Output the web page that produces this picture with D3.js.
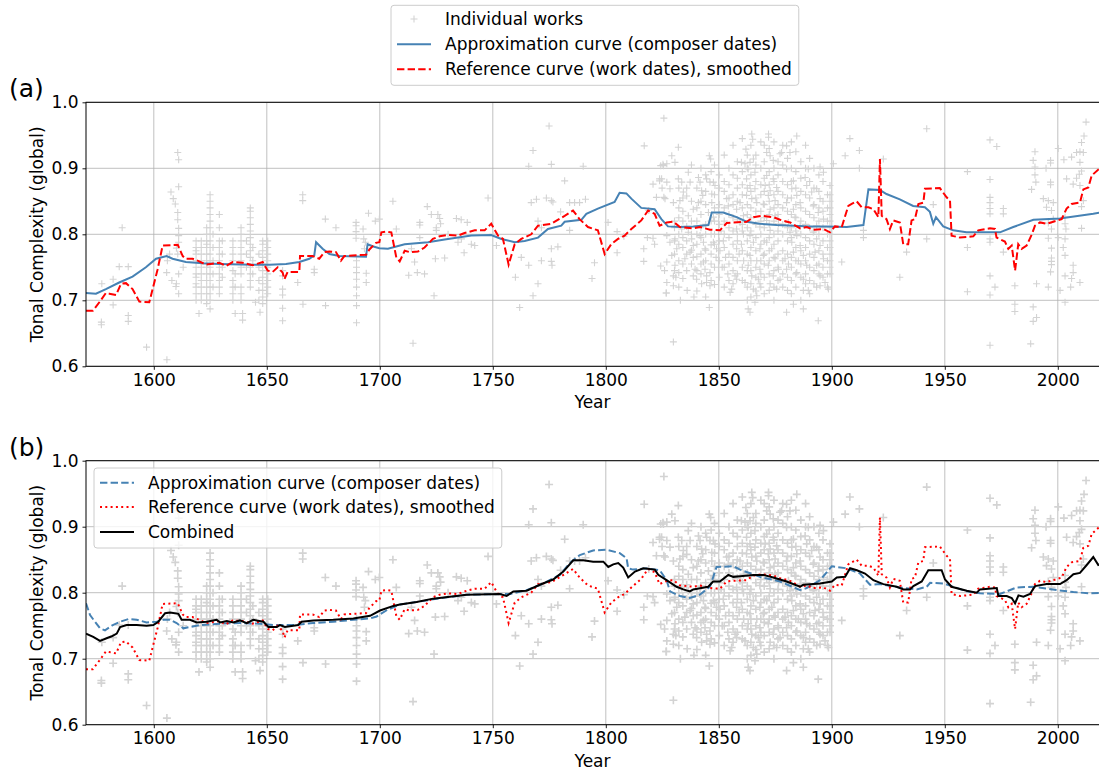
<!DOCTYPE html>
<html>
<head>
<meta charset="utf-8">
<script src="https://cdn.jsdelivr.net/npm/d3@7"></script>
<style>
  body { margin: 0; background: #fff; }
  text { font-family: "DejaVu Sans", sans-serif; }
</style>
</head>
<body>
<svg id="chart" width="1099" height="771"></svg>
<script>
// individual works: [year, value, value, ...] (several works can share a year)
var works = [
  [1576.8, .667, .663], [1577, .725], [1582, .732, .693], [1584.7, .751], [1586, .81],
  [1588.7, .751, .677, .668], [1596.8, .629], [1605.8, .61], [1605.7, .742], [1606, .76],
  [1607, .77], [1607.6, .864], [1608, .73], [1608.6, .854], [1609.5, .846], [1610, .779, .725],
  [1609.8, .721], [1610.6, .924, .833, .822, .77], [1611, .913, .872, .809, .798, .788, .74, .71],
  [1613, .75],
  [1618.7, .79, .78, .775, .77, .76, .75, .74, .735, .725, .72, .71, .70],
  [1620, .68],
  [1621, .79, .78, .77, .76, .75, .74, .73, .72, .71, .70],
  [1623.4, .81, .80, .79, .785, .78, .77, .76, .755, .75, .74, .73, .72, .71, .70, .695],
  [1624.9, .86, .85, .84, .83, .82, .81, .80, .79, .78, .77, .76, .75, .74, .73, .72, .71, .70, .687],
  [1626.2, .80, .78, .76, .74, .72],
  [1629, .83, .81, .79, .78, .77, .76, .75, .74, .73, .72, .71],
  [1630.3, .79, .77, .75, .735],
  [1635, .79, .78, .77, .76, .745, .73, .72, .71, .70],
  [1636, .74, .72, .68],
  [1638.6, .81, .80, .79, .78, .77, .76, .75, .74, .72, .71, .70],
  [1639.3, .68, .67], [1641, .79, .77, .75],
  [1642.7, .84, .835, .825, .815, .805, .795, .785, .775, .765, .75, .74, .73, .72],
  [1643.8, .78, .76, .74], [1645, .697],
  [1646.5, .77, .75, .73, .715, .70], [1647, .682],
  [1648.2, .79, .785, .775, .765, .755, .745, .735, .725, .715, .705, .695],
  [1650.4, .79, .78, .77, .76, .75, .74, .73, .72, .71],
  [1657, .745, .737, .717, .708, .688, .669], [1663.7, .727], [1665.9, .86, .851], [1666, .694],
  [1671, .747, .742], [1675.9, .823], [1676, .692], [1680.6, .81],
  [1689.5, .818, .813, .804, .794], [1689.7, .76, .75, .742, .732, .72, .707, .692, .666],
  [1692.6, .808], [1692.9, .793], [1693.6, .788], [1693.2, .778], [1694, .741, .727],
  [1695, .832], [1698, .82], [1699.8, .823],
  [1705.8, .85], [1707.3, .808], [1712.8, .738], [1714, .778], [1714.7, .635], [1715.4, .758],
  [1716.6, .742], [1717.7, .818, .814, .795], [1719.8, .74], [1721, .842], [1722.8, .83],
  [1724, .707], [1724.6, .763], [1725, .81, .806], [1725.7, .83], [1726.5, .824], [1726.9, .816],
  [1728.7, .764], [1730.2, .80], [1733.9, .824], [1734.6, .788], [1736, .822], [1736.1, .793],
  [1737.3, .772], [1738.7, .818], [1740.5, .785], [1742, .783], [1747.9, .855], [1750, .80],
  [1751.6, .783], [1760, .735], [1761.9, .689], [1762.6, .765], [1765.9, .753, .903],
  [1767, .848], [1767.8, .927, .707], [1769.3, .853], [1770, .82, .725], [1771.5, .81, .76],
  [1773.7, .855], [1774.9, .964], [1775.9, .906, .851, .759, .778], [1776.2, .753], [1776.6, .849],
  [1778.8, .781], [1780, .834], [1781.8, .881], [1784, .848, .806], [1786.2, .848], [1788.4, .848],
  [1790, .903], [1791, .853], [1793.9, .733], [1795, .757], [1801, .818], [1805, .804, .772],
  [1808, .797], [1816.8, .778, .759], [1817, .934], [1818.4, .795], [1819, .836],
  [1820.9, .876, .794], [1821.6, .785], [1822.4, .856], [1823.8, .881, .884], [1824.3, .752, .904],
  [1824.7, .884], [1824.9, .87], [1825.3, .906], [1825.5, .904], [1825.7, .976, .856],
  [1826, .745], [1826.2, .854], [1826.7, .711], [1826.8, .711],
  [1827, .907, .879, .798, .758, .727], [1828.4, .869, .788], [1829.2, .919, .768],
  [1829.9, .637, .848, .737, .722], [1830.6, .909, .793, .753], [1831, .735], [1831.4, .778],
  [1832.1, .932, .884], [1832.8, .851], [1833, .70], [1833.6, .879, .808], [1834.3, .864],
  [1835, .763], [1836, .715], [1836.5, .894, .828, .803], [1837.3, .879, .773], [1838, .793],
  [1838.7, .838, .783, .765, .737], [1839, .705], [1839.5, .747], [1840.2, .732],
  [1841, .886, .848], [1841.7, .879, .798], [1842.4, .866, .725], [1842.9, .859],
  [1843.2, .758, .788], [1843.9, .747, .778], [1844.6, .884, .737, .727], [1845.4, .833],
  [1845.8, .919, .689], [1846.1, .879, .742, .722], [1846.4, .914], [1846.9, .861, .848],
  [1847.6, .879, .826, .788], [1848.3, .874], [1848.8, .765], [1849, .778],
  [1850.5, .775], [1851, .805], [1851.5, .75], [1852, .79], [1853, .765], [1853.5, .854],
  [1854, .74], [1854.2, .843], [1855, .712], [1855.7, .717], [1857.2, .737],
  [1857.9, .778, .732, .838, .808], [1859, .77], [1859.4, .848, .818], [1860, .909, .785],
  [1860.9, .828, .80], [1861, .76], [1861.6, .907, .727], [1862, .929], [1862.3, .884, .859],
  [1863, .687, .899, .753], [1863.8, .682, .909, .874, .798, .768], [1864.6, .952, .854, .737],
  [1865, .944], [1865.3, .914, .788, .717], [1866, .894, .869, .697], [1866.8, .848, .76, .707],
  [1867.5, .732], [1868.2, .778, .747, .725, .811], [1869.7, .846, .768], [1870.5, .874],
  [1871.2, .924, .889, .821, .788], [1871.9, .859, .753], [1872, .952, .947],
  [1872.7, .919, .866, .838, .806, .725], [1873.4, .778], [1874.1, .912, .884, .737],
  [1874.9, .851, .828, .763], [1875.6, .871, .717], [1876.4, .816, .747], [1877.1, .922, .732],
  [1877.8, .924], [1879.3, .763], [1880, .934, .899, .848, .747, .682], [1880.8, .818, .755],
  [1881.5, .924, .803], [1882.3, .869, .788], [1883, .881, .838, .773, .694], [1883.7, .826],
  [1884.5, .949, .859, .798, .742], [1885.2, .76], [1886, .848, .813, .783],
  [1887.4, .768, .732, .687, .715], [1888.2, .886], [1888.9, .874, .753], [1889.6, .899, .715],
  [1891.1, .864], [1891.8, .843, .803], [1892.6, .773], [1893.3, .869, .813, .72, .793, .753],
  [1894, .833, .669], [1894.8, .854, .902, .722, .783, .737], [1896.3, .823, .894, .763],
  [1897, .727], [1898.5, .717],
  [1899.2, .874, .86, .85, .84, .83, .82, .81, .80, .79, .78, .77, .76, .75, .74],
  // denser part of the 19th-century cluster
  [1830.4, .82, .81, .79, .77, .745], [1832.3, .87, .84, .825, .80, .785, .76, .742, .72],
  [1834.1, .855, .835, .82, .795, .78, .755, .733], [1835.8, .87, .858, .812, .79, .77, .745],
  [1837.9, .905, .85, .82, .80, .776, .755], [1840.3, .87, .84, .82, .80, .785, .766, .745, .714],
  [1842.1, .90, .85, .83, .81, .795, .77, .755, .74], [1844.2, .89, .865, .845, .815, .80, .776, .76, .705],
  [1846.6, .895, .82, .80, .784, .77, .755, .73], [1848.1, .905, .86, .84, .82, .80, .785, .75, .724],
  [1850.2, .89, .87, .845, .83, .815, .79, .76, .735], [1852.4, .92, .88, .865, .84, .82, .80, .78, .75, .72],
  [1854.5, .90, .875, .855, .83, .81, .795, .77, .755, .73],
  [1856.3, .935, .89, .86, .845, .825, .805, .785, .765, .745, .725],
  [1858.2, .91, .885, .87, .85, .822, .80, .79, .76, .74],
  [1860.4, .945, .895, .875, .86, .84, .815, .805, .775, .75, .73],
  [1862.6, .92, .90, .87, .845, .83, .81, .79, .77, .745, .72, .70],
  [1864.2, .935, .89, .865, .84, .825, .805, .78, .76, .745, .725, .705],
  [1866.4, .92, .905, .88, .855, .835, .815, .795, .775, .75, .735, .714],
  [1868.6, .94, .90, .875, .86, .835, .82, .80, .785, .76, .74, .72],
  [1870.1, .935, .91, .885, .865, .845, .825, .81, .79, .77, .755, .735, .71],
  [1872.3, .93, .895, .875, .85, .83, .815, .795, .775, .76, .74, .715],
  [1874.4, .94, .90, .88, .86, .84, .82, .80, .785, .765, .745, .72, .70],
  [1876.2, .91, .89, .865, .845, .83, .805, .79, .77, .75, .73],
  [1878.3, .935, .905, .88, .86, .84, .815, .80, .775, .76, .74, .72],
  [1880.4, .915, .875, .855, .835, .81, .79, .77, .735, .715],
  [1882.1, .94, .90, .88, .855, .83, .81, .795, .765, .75, .73, .71],
  [1884.1, .925, .895, .87, .845, .825, .805, .78, .76, .74, .72],
  [1886.3, .91, .885, .865, .84, .82, .80, .775, .755, .735, .70],
  [1888.4, .935, .90, .86, .835, .815, .795, .78, .76, .74, .725],
  [1890.2, .915, .88, .855, .83, .81, .79, .77, .75, .73, .71],
  [1892.1, .90, .87, .845, .825, .805, .785, .765, .745, .725],
  [1894.3, .89, .865, .84, .82, .80, .775, .755, .74],
  [1896.1, .88, .85, .835, .81, .79, .77, .75, .735],
  [1898.1, .86, .84, .82, .80, .78, .76, .74, .72],
  [1900.7, .907], [1904.4, .758], [1905.9, .919], [1908, .945], [1912.2, .927, .90],
  [1914, .806, .795], [1922.8, .914], [1930.1, .735], [1933.1, .773], [1942, .96, .793],
  [1944.9, .845], [1960, .895, .78, .713],
  [1970, .943, .883, .856, .848, .839, .831, .793, .788, .737, .708, .632], [1972.2, .72],
  [1973, .933], [1975.9, .839, .831, .773], [1981, .722, .694, .683], [1988, .634],
  [1988.4, .868], [1989.1, .69, .668, .912], [1989.9, .925, .902, .89], [1990.3, .879],
  [1990.6, .674, .725], [1993.6, .854], [1994.8, .90], [1995, .841],
  [1995.8, .72, .851, .817, .794], [1996.8, .912, .908, .879, .875, .743],
  [1997.2, .836, .808, .779, .764, .759, .754], [1998, .848, .823], [2000.2, .93, .795],
  [2001, .715], [2002.4, .78], [2002.7, .913], [2003.2, .697, .826, .816, .793, .768, .737],
  [2003.6, .808], [2003.9, .884], [2005.7, .72], [2006.1, .917, .733], [2006.8, .876, .753, .742],
  [2008.3, .924, .885], [2009.5, .891], [2009.8, .925, .909, .874, .727],
  [2010.5, .939, .896, .842, .809], [2011.3, .924, .851], [2011.6, .949], [2012.5, .97]
];

// approximation curve from composer dates, panel (a)
var approxA = [
  [1570, .711], [1574.4, .71], [1578.8, .717], [1584.7, .727], [1590.6, .736], [1596.5, .75],
  [1601, .763], [1605.7, .767], [1608.3, .763], [1614.2, .758], [1621.6, .756], [1629, .755],
  [1643.7, .754], [1651.1, .754], [1658.5, .755], [1664.4, .758], [1668.8, .763], [1671, .768],
  [1671.8, .788], [1674.7, .778], [1677.7, .77], [1682.1, .767], [1693.9, .766], [1694.6, .785],
  [1696.8, .782], [1699.8, .779], [1703.6, .778], [1711, .785], [1721.3, .788], [1728.7, .792],
  [1740.5, .798], [1749.3, .799], [1753.8, .793], [1759.7, .788], [1764.1, .79], [1770, .795],
  [1774.4, .808], [1780.3, .813], [1781.8, .819], [1789.2, .822], [1791.4, .831], [1796.5, .839],
  [1803.9, .849], [1806.1, .863], [1809.1, .862], [1811.3, .854], [1815.7, .84], [1821.6, .838],
  [1824.6, .823], [1827.5, .812], [1832.8, .811], [1838.7, .812], [1845.4, .814], [1846.9, .833],
  [1852, .833], [1857.9, .826], [1862.3, .819], [1868.2, .816], [1875.6, .814], [1883, .813],
  [1890.4, .812], [1897.7, .812], [1906.6, .811], [1914, .814], [1916.2, .868], [1921.3, .867],
  [1924.2, .861], [1930.1, .853], [1936, .843], [1941.2, .841], [1943.4, .834], [1944.9, .816],
  [1946.1, .826], [1949.3, .812], [1953.7, .806], [1959.6, .803], [1974.4, .803], [1980.3, .811],
  [1989.2, .822], [2000.9, .824], [2015.7, .831], [2020, .834]
];

// approximation curve from composer dates, panel (b)
var approxB = [
  [1570, .784], [1571.8, .766], [1576.2, .746], [1578.4, .743], [1581.4, .75], [1585.1, .756],
  [1588.7, .76], [1592.4, .759], [1596.8, .755], [1601.3, .756], [1604.2, .759], [1607.2, .759],
  [1610.1, .754], [1613.1, .746], [1616, .748], [1620.4, .751], [1629.3, .753], [1638.1, .754],
  [1647, .753], [1652.9, .751], [1661.7, .751], [1670.6, .754], [1679.4, .756], [1688.3, .759],
  [1695.7, .761], [1698.6, .764], [1703.3, .774], [1708.9, .782], [1714.8, .785], [1723.6, .79],
  [1738.4, .797], [1753.1, .798], [1757.6, .798], [1765, .804], [1772.3, .814], [1779.7, .827],
  [1784.1, .845], [1788.5, .857], [1794.4, .864], [1800.3, .865], [1806.2, .86], [1809.2, .852],
  [1809.9, .837], [1812.1, .835], [1818, .837], [1823.9, .834], [1826.9, .819], [1828.4, .802],
  [1832.8, .795], [1837.2, .792], [1841.6, .797], [1846.1, .809], [1849, .839], [1856.4, .84],
  [1859.4, .835], [1868.2, .824], [1877.1, .817], [1885.9, .804], [1888.9, .807], [1894.8, .819],
  [1900, .84], [1906.6, .837], [1912.5, .829], [1916.9, .812], [1921.3, .813], [1930.2, .808],
  [1937.6, .805], [1942, .809], [1943.5, .815], [1949.4, .814], [1953.8, .809], [1959.7, .802],
  [1965.6, .799], [1974.4, .798], [1981.8, .808], [1989.2, .809], [1999.5, .804], [2006.9, .801],
  [2014.3, .799], [2020, .80]
];

// reference curve from work dates, smoothed (same in both panels)
var refCurve = [
  [1570, .684], [1573, .684], [1575.9, .697], [1578.8, .711], [1580.3, .71], [1583.3, .708],
  [1585.5, .725], [1587.7, .726], [1590.6, .717], [1593.6, .698], [1598, .697], [1601.7, .747],
  [1603.9, .783], [1610.6, .784], [1612.8, .767], [1614.2, .763], [1617.2, .763], [1620.1, .759],
  [1623.1, .754], [1629, .757], [1631.9, .752], [1634.9, .758], [1639.3, .757], [1643.7, .753],
  [1648.2, .758], [1650.4, .745], [1652.6, .743], [1654.8, .75], [1657, .742], [1657.8, .732],
  [1659.2, .743], [1664.4, .743], [1664.7, .767], [1670.3, .767], [1673.2, .763], [1675.5, .773],
  [1677.7, .774], [1680.6, .773], [1682.8, .76], [1684.3, .767], [1688, .768], [1693.9, .769],
  [1695.4, .777], [1698.3, .787], [1699.8, .788], [1700.7, .803], [1702.9, .804], [1705.1, .803],
  [1707.3, .765], [1708.8, .759], [1711, .775], [1713.2, .773], [1716.9, .774], [1719.8, .78],
  [1723.5, .793], [1726.5, .797], [1730.2, .799], [1734.6, .798], [1737.5, .802], [1742, .806],
  [1746.4, .806], [1749.3, .816], [1752.3, .798], [1754.5, .793], [1757, .754], [1759.7, .785],
  [1762.6, .793], [1767, .80], [1770, .813], [1775.9, .816], [1781.8, .828], [1785.5, .836],
  [1788.4, .823], [1792.1, .811], [1796.5, .806], [1799.5, .77], [1802.4, .785], [1805.4, .793],
  [1808.3, .798], [1811.3, .808], [1815.7, .821], [1818.7, .836], [1821.6, .831], [1823.8, .813],
  [1827, .818], [1829.9, .819], [1832.8, .811], [1838.7, .809], [1841.7, .811], [1846.1, .807],
  [1850.5, .806], [1853.5, .817], [1856.4, .818], [1862.3, .819], [1865.3, .826], [1869, .828],
  [1874.1, .826], [1877.1, .822], [1881.5, .818], [1886, .809], [1888.9, .811], [1891.8, .807],
  [1896.3, .808], [1899.2, .803], [1901.4, .812], [1904.4, .811], [1907.3, .843], [1908.8, .846],
  [1911, .85], [1913.2, .841], [1916.2, .841], [1918.4, .838], [1920.6, .826], [1921.3, .914],
  [1922.1, .828], [1924.2, .823], [1925.7, .808], [1927.2, .821], [1930.1, .818], [1931.6, .785],
  [1933.8, .785], [1935.3, .821], [1936.8, .823], [1938.3, .846], [1940.5, .848], [1941.2, .869],
  [1947.8, .87], [1950.8, .856], [1952.3, .851], [1953, .798], [1956.7, .795], [1962.6, .797],
  [1964.8, .806], [1966.3, .807], [1970, .809], [1972.2, .808], [1972.9, .795], [1976.6, .789],
  [1978.1, .778], [1979.6, .783], [1981.1, .745], [1982.5, .785], [1984, .778], [1986.2, .783],
  [1988.4, .799], [1989.9, .813], [1992.1, .818], [1995, .816], [1998, .819], [2001.7, .823],
  [2003.9, .839], [2006.1, .846], [2009.8, .848], [2011.3, .868], [2013.5, .871], [2015, .889],
  [2018.2, .899], [2020, .89]
];

// combined curve, panel (b)
var combined = [
  [1570, .738], [1573.2, .733], [1576.2, .727], [1579.1, .731], [1581.4, .734], [1583.6, .738],
  [1585.1, .748], [1588, .751], [1592.4, .751], [1596.8, .75], [1599.8, .751], [1602, .756],
  [1605, .769], [1607.2, .77], [1610.9, .768], [1612.3, .759], [1616, .759], [1619, .755],
  [1623.4, .756], [1627.8, .759], [1629.3, .755], [1632.3, .757], [1635.2, .755], [1638.1, .758],
  [1641.1, .754], [1644, .759], [1648.5, .756], [1650.7, .748], [1654.4, .748], [1655.8, .751],
  [1658, .748], [1663.9, .751], [1665.4, .756], [1670.6, .758], [1679.4, .759], [1688.3, .761],
  [1695.7, .765], [1700.1, .773], [1706, .78], [1708.9, .782], [1716.3, .786], [1723.6, .791],
  [1738.4, .797], [1753.1, .798], [1756.1, .795], [1759.1, .802], [1765, .803], [1770.8, .812],
  [1776.7, .82], [1781.2, .832], [1785.6, .849], [1790, .849], [1794.4, .847], [1798.9, .847],
  [1801.1, .839], [1803.3, .843], [1805.5, .845], [1807.7, .838], [1809.9, .823], [1812.9, .832],
  [1816.6, .837], [1821.7, .835], [1823.2, .827], [1826.9, .819], [1831.3, .809], [1834.3, .805],
  [1837.2, .802], [1838.7, .805], [1845.3, .809], [1847.5, .817], [1850.5, .817], [1854.2, .827],
  [1856.4, .824], [1859.4, .825], [1865.3, .827], [1869.7, .827], [1874.1, .823], [1880, .817],
  [1885.9, .809], [1887.4, .812], [1894.8, .814], [1900, .817], [1902.2, .823], [1905.9, .824],
  [1908.1, .837], [1911.1, .834], [1914.7, .829], [1918.4, .819], [1922.8, .813], [1928.7, .809],
  [1931.7, .805], [1934.6, .805], [1936.1, .81], [1939.8, .817], [1942.7, .834], [1948.6, .834],
  [1950.1, .82], [1953, .809], [1959.7, .803], [1964.1, .80], [1965.6, .805], [1973, .807],
  [1973.7, .795], [1977.4, .795], [1979.6, .792], [1981.1, .784], [1982.6, .796], [1984.8, .794],
  [1987.7, .798], [1989.9, .81], [1995.1, .813], [2001, .813], [2003.9, .819], [2006.9, .828],
  [2009.8, .83], [2012.8, .842], [2015.7, .854], [2017.9, .842], [2020, .845]
];

var xTicks = [1600, 1650, 1700, 1750, 1800, 1850, 1900, 1950, 2000];
var yTicks = [0.6, 0.7, 0.8, 0.9, 1.0];

var legendA = ["Individual works", "Approximation curve (composer dates)", "Reference curve (work dates), smoothed"];
var legendB = ["Approximation curve (composer dates)", "Reference curve (work dates), smoothed", "Combined"];

var svg = d3.select('#chart');
var fontSize = 17;

var points = [];
works.forEach(function(row) {
    row.slice(1).forEach(function(v) { points.push([row[0], v]); });
});

var x = d3.scaleLinear().domain([1570, 2020]).range([86, 1103]);

var panels = [
    { name: 'a', top: 102.3, bottom: 366.3, plus: 3.5, plusWidth: 1.1 },
    { name: 'b', top: 460.7, bottom: 724.7, plus: 4, plusWidth: 1.6 }
];

function plusPath(s) {
    return 'M' + (-s) + ',0H' + s + 'M0,' + (-s) + 'V' + s;
}

panels.forEach(function(p) {
    var y = d3.scaleLinear().domain([0.6, 1.0]).range([p.bottom, p.top]);
    var g = svg.append('g');

    g.append('clipPath').attr('id', 'clip-' + p.name)
      .append('rect')
        .attr('x', 86).attr('y', p.top)
        .attr('width', 1017).attr('height', p.bottom - p.top);

    // grid
    g.selectAll('.vgrid').data(xTicks).enter().append('line')
        .attr('x1', function(d) { return x(d); })
        .attr('x2', function(d) { return x(d); })
        .attr('y1', p.top).attr('y2', p.bottom)
        .attr('stroke', '#b0b0b0').attr('stroke-width', 0.8);
    g.selectAll('.hgrid').data(yTicks).enter().append('line')
        .attr('x1', 86).attr('x2', 1103)
        .attr('y1', function(d) { return y(d); })
        .attr('y2', function(d) { return y(d); })
        .attr('stroke', '#b0b0b0').attr('stroke-width', 0.8);

    var plot = g.append('g').attr('clip-path', 'url(#clip-' + p.name + ')');

    plot.selectAll('.work').data(points).enter().append('path')
        .attr('d', plusPath(p.plus))
        .attr('transform', function(d) { return 'translate(' + x(d[0]) + ',' + y(d[1]) + ')'; })
        .attr('stroke', '#d3d3d3')
        .attr('stroke-width', p.plusWidth)
        .attr('fill', 'none');

    var line = d3.line()
        .x(function(d) { return x(d[0]); })
        .y(function(d) { return y(d[1]); });

    if (p.name === 'a') {
        plot.append('path').datum(approxA).attr('d', line)
            .attr('fill', 'none').attr('stroke', 'steelblue').attr('stroke-width', 2);
        plot.append('path').datum(refCurve).attr('d', line)
            .attr('fill', 'none').attr('stroke', 'red').attr('stroke-width', 2)
            .attr('stroke-dasharray', '7.4,3.2');
    } else {
        plot.append('path').datum(approxB).attr('d', line)
            .attr('fill', 'none').attr('stroke', 'steelblue').attr('stroke-width', 2)
            .attr('stroke-dasharray', '7.4,3.2');
        plot.append('path').datum(refCurve).attr('d', line)
            .attr('fill', 'none').attr('stroke', 'red').attr('stroke-width', 2)
            .attr('stroke-dasharray', '2,3.3');
        plot.append('path').datum(combined).attr('d', line)
            .attr('fill', 'none').attr('stroke', 'black').attr('stroke-width', 2);
    }

    // axes
    var xAxis = d3.axisBottom(x).tickValues(xTicks).tickFormat(d3.format('d'))
        .tickSize(3.5).tickPadding(4);
    var yAxis = d3.axisLeft(y).tickValues(yTicks).tickFormat(d3.format('.1f'))
        .tickSize(3.5).tickPadding(4);

    var xa = g.append('g').attr('transform', 'translate(0,' + p.bottom + ')').call(xAxis);
    var ya = g.append('g').attr('transform', 'translate(86,0)').call(yAxis);
    [xa, ya].forEach(function(a) {
        a.select('.domain').remove();
        a.selectAll('text').attr('font-size', fontSize).attr('fill', '#000')
            .attr('font-family', '"DejaVu Sans", sans-serif');
        a.selectAll('line').attr('stroke', '#000').attr('stroke-width', 0.9);
    });

    // frame
    g.append('rect')
        .attr('x', 86).attr('y', p.top)
        .attr('width', 1017).attr('height', p.bottom - p.top)
        .attr('fill', 'none').attr('stroke', '#000').attr('stroke-width', 1);

    g.append('text')
        .attr('x', (86 + 1099) / 2).attr('y', p.bottom + 42)
        .attr('text-anchor', 'middle').attr('font-size', fontSize)
        .text('Year');

    g.append('text')
        .attr('transform', 'translate(43,' + ((p.top + p.bottom) / 2) + ') rotate(-90)')
        .attr('text-anchor', 'middle').attr('font-size', fontSize)
        .text('Tonal Complexity (global)');

    g.append('text')
        .attr('x', 9).attr('y', p.top - 5)
        .attr('font-size', 25)
        .text('(' + p.name + ')');
});

function drawLegend(left, top, rows, labels, styles, boxHeight) {
    var lg = svg.append('g');
    var box = lg.append('rect')
        .attr('x', left).attr('y', top).attr('height', boxHeight)
        .attr('rx', 3).attr('ry', 3)
        .attr('fill', 'white').attr('fill-opacity', 0.8)
        .attr('stroke', '#cccccc').attr('stroke-width', 1);
    var maxLen = 0;
    labels.forEach(function(label, i) {
        var cy = rows[i];
        var s = styles[i];
        if (s.type === 'plus') {
            lg.append('path').attr('d', plusPath(3.5))
                .attr('transform', 'translate(' + (left + 23) + ',' + cy + ')')
                .attr('stroke', '#d3d3d3').attr('stroke-width', 1.1).attr('fill', 'none');
        } else {
            lg.append('line')
                .attr('x1', left + 6).attr('x2', left + 40)
                .attr('y1', cy).attr('y2', cy)
                .attr('stroke', s.color).attr('stroke-width', 2)
                .attr('stroke-dasharray', s.dash || null);
        }
        var t = lg.append('text')
            .attr('x', left + 54).attr('y', cy + 6)
            .attr('font-size', fontSize)
            .text(label);
        maxLen = Math.max(maxLen, t.node().getComputedTextLength());
    });
    box.attr('width', 54 + maxLen + 7);
}

drawLegend(391, 5.3, [19, 44.3, 69.3], legendA, [
    { type: 'plus' },
    { color: 'steelblue' },
    { color: 'red', dash: '7.4,3.2' }
], 80);

drawLegend(94, 468, [482.7, 507, 532], legendB, [
    { color: 'steelblue', dash: '7.4,3.2' },
    { color: 'red', dash: '2,3.3' },
    { color: 'black' }
], 80);
</script>
</body>
</html>
